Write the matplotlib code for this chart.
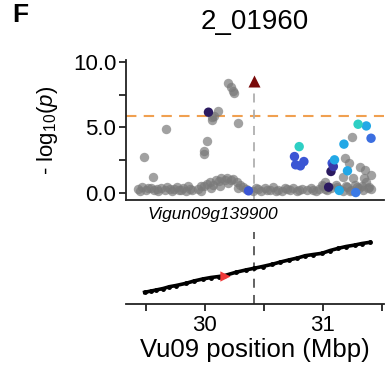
# Regional association plot for 2_01960 with the genetic map below

import matplotlib.pyplot as plt

plt.rcParams['font.family'] = ['Liberation Sans', 'DejaVu Sans']
plt.rcParams['mathtext.fontset'] = 'custom'
plt.rcParams['mathtext.rm'] = 'Liberation Sans'
plt.rcParams['mathtext.it'] = 'Liberation Sans:italic'

# Data
title = '2_01960'
gene_name = 'Vigun09g139900'
gene_pos = 30.42  # Mbp
lead_pos = 30.42
lead_logp = 8.55
threshold = 5.9

# Background SNPs (grey)
grey_pos = [29.43, 29.47, 29.50, 29.54, 29.57, 29.60, 29.63, 29.66, 29.70, 29.72, 29.76, 29.78,
            29.81, 29.84, 29.86, 29.89, 29.45, 29.52, 29.59, 29.68, 29.74, 29.80, 29.87,
            29.94, 29.97, 29.99, 30.02, 30.04, 30.07, 30.09, 30.12, 30.14, 30.17, 30.19, 30.22,
            30.24, 30.27, 30.30, 30.32, 30.35, 29.97, 30.05, 30.13, 30.20, 30.28,
            30.41, 30.45, 30.48, 30.51, 30.55, 30.58, 30.62, 30.65, 30.68, 30.72, 30.75, 30.78, 30.82,
            30.43, 30.53, 30.60, 30.70, 30.80,
            30.87, 30.90, 30.94, 30.97, 31.00, 31.04, 31.07, 31.11, 31.14, 31.17, 31.21, 31.24,
            31.27, 31.31, 31.34, 31.38, 31.41, 30.92, 31.02, 31.12, 31.23, 31.33,
            29.48, 29.56, 29.67, 29.99, 29.99, 30.02, 30.06, 30.06, 30.11, 30.08, 30.28,
            30.20, 30.22, 30.24, 30.25,
            31.19, 31.22, 31.32, 31.36, 31.41, 31.35, 31.17, 31.26, 31.37, 31.29, 31.39, 31.20,
            30.99, 31.02, 31.25]
grey_logp = [0.30, 0.45, 0.20, 0.35, 0.25, 0.10, 0.40, 0.20, 0.30, 0.15, 0.45, 0.25,
             0.35, 0.10, 0.50, 0.20, 0.10, 0.40, 0.30, 0.45, 0.30, 0.20, 0.30,
             0.30, 0.15, 0.50, 0.70, 0.85, 0.60, 1.00, 0.90, 1.10, 1.00, 1.12, 0.95,
             1.05, 0.80, 0.60, 0.45, 0.30, 0.55, 0.35, 0.50, 0.75, 0.40,
             0.15, 0.30, 0.10, 0.35, 0.20, 0.45, 0.25, 0.10, 0.35, 0.20, 0.40, 0.15, 0.30,
             0.35, 0.25, 0.15, 0.30, 0.20,
             0.20, 0.35, 0.15, 0.30, 0.50, 0.20, 0.40, 0.60, 0.30, 0.15, 0.45, 0.25,
             0.60, 0.35, 0.20, 0.40, 0.30, 0.25, 0.30, 0.45, 0.15, 0.55,
             2.77, 1.20, 4.89, 2.98, 3.23, 3.97, 5.57, 5.83, 6.28, 5.90, 5.32,
             8.42, 8.07, 7.81, 7.61,
             2.65, 2.31, 2.00, 1.76, 1.37, 1.12, 1.24, 1.12, 0.86, 0.48, 0.48, 0.53,
             0.61, 0.86, 4.30]

# SNPs in LD with the lead SNP (coloured)
ld_pos = [30.03, 31.07, 31.05,
          30.37, 30.76, 30.77, 30.81, 30.84, 31.08, 31.41, 31.28, 31.09,
          31.10, 31.14, 31.18, 31.21, 31.37,
          30.80, 31.30]
ld_logp = [6.16, 1.63, 0.43,
           0.15, 2.77, 2.14, 2.06, 2.39, 2.27, 4.17, 0.02, 2.01,
           2.52, 0.18, 3.72, 1.68, 5.11,
           3.53, 5.24]
ld_colors = ['#2b1a60', '#2b1a60', '#2b1a60',
             '#3b56d4', '#3b56d4', '#3b56d4', '#3b56d4', '#3b56d4', '#3b56d4', '#3b6ee0', '#3b7ae6', '#3a3aa8',
             '#22a8e6', '#22a8e6', '#22a8e6', '#22a8e6', '#22a8e6',
             '#2ecfc4', '#2ecfc4']

# Genetic map markers (physical position vs map position)
map_pos = [29.488, 29.544, 29.586, 29.646, 29.699, 29.755, 29.840, 29.907, 29.981, 30.051,
           30.118, 30.163, 30.262, 30.346, 30.416, 30.489, 30.571, 30.641, 30.711, 30.785,
           30.852, 30.920, 30.993, 31.063, 31.133, 31.198, 31.274, 31.333, 31.401]
map_cm = [11.7, 13.0, 14.0, 15.5, 17.3, 18.5, 20.7, 23.0, 25.0, 26.5,
          27.5, 28.3, 31.7, 34.0, 35.7, 37.5, 39.7, 42.0, 44.0, 46.0,
          48.3, 49.5, 50.7, 53.5, 55.7, 57.5, 59.0, 60.5, 61.7]
marker_pos = 30.17
marker_cm = 28.0

xmin, xmax = 29.33, 31.52

fig = plt.figure(figsize=(3.91, 3.75), dpi=100)

# Top panel: -log10(p)
ax1 = fig.add_axes([126 / 391, 1 - 200 / 375, 258 / 391, 140 / 375])
ax1.axhline(threshold, color='#f0a050', lw=1.5, ls=(0, (5, 3.5)), zorder=1)
ax1.plot([gene_pos, gene_pos], [-0.55, lead_logp], color='#b0b0b0', lw=1.3, ls=(0, (5, 4)), zorder=1)
ax1.scatter(grey_pos, grey_logp, s=46, color='#7a7a7a', alpha=0.7, lw=0, zorder=2)
ax1.scatter(ld_pos, ld_logp, s=46, c=ld_colors, lw=0, zorder=3)
ax1.scatter([lead_pos], [lead_logp], s=75, marker='^', color='#7a0a0a', lw=0, zorder=4)
ax1.set_xlim(xmin, xmax)
ax1.set_ylim(-0.55, 10.15)
ax1.set_yticks([0, 2.5, 5, 7.5, 10])
ax1.set_yticklabels(['0.0', '', '5.0', '', '10.0'])
ax1.set_xticks([])
ax1.spines['top'].set_visible(False)
ax1.spines['right'].set_visible(False)
for s in ['left', 'bottom']:
    ax1.spines[s].set_linewidth(1.3)
    ax1.spines[s].set_color('#222222')
ax1.tick_params(axis='y', length=5, width=1.3, labelsize=16, color='#222222', pad=2)
ax1.set_ylabel(r'- log$_{10}$($\mathit{p}$)', fontsize=16, labelpad=9)
ax1.set_title(title, fontsize=20, pad=22)

# Bottom panel: genetic map
ax2 = fig.add_axes([126 / 391, 1 - 304 / 375, 258 / 391, 72 / 375])
ax2.plot([gene_pos, gene_pos], [0, 80], color='#555555', lw=1.3, ls=(0, (5, 4)), zorder=1)
ax2.plot(map_pos, map_cm, color='black', lw=2.6, marker='o', ms=2.5, zorder=2)
ax2.scatter([marker_pos], [marker_cm], s=55, marker='>', color='#f03a3a', lw=0, zorder=3)
ax2.set_xlim(xmin, xmax)
ax2.set_ylim(0, 72)
ax2.set_xticks([29.5, 30, 30.5, 31, 31.5])
ax2.set_xticklabels(['', '30', '', '31', ''])
ax2.set_yticks([])
for s in ['top', 'right', 'left']:
    ax2.spines[s].set_visible(False)
ax2.spines['bottom'].set_linewidth(1.3)
ax2.spines['bottom'].set_color('#222222')
ax2.tick_params(axis='x', length=5, width=1.3, labelsize=16, color='#222222', pad=3)
ax2.set_xlabel('Vu09 position (Mbp)', fontsize=18.5, labelpad=1)
ax2.patch.set_alpha(0)

# Gene label
fig.text(213 / 391, 1 - 215 / 375, gene_name, fontsize=12.5, style='italic', ha='center', va='center')

# Panel letter
fig.text(12 / 391, 1 - 15 / 375, 'F', fontsize=19, fontweight='bold', ha='left', va='center')

plt.savefig('out.png', dpi=100)
